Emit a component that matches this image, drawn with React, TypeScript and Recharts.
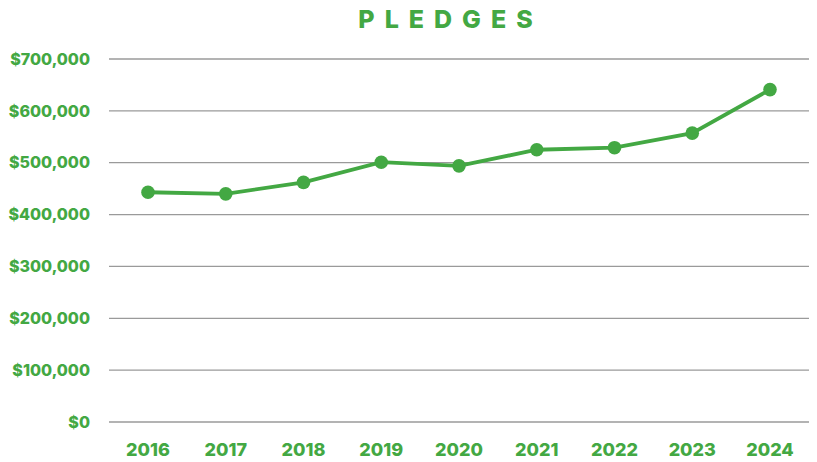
import React from "react";
import { LineChart, Line, XAxis, YAxis, CartesianGrid } from "recharts";

const years = ["2016", "2017", "2018", "2019", "2020", "2021", "2022", "2023", "2024"];
const pledges = [443000, 440000, 462000, 501000, 494000, 525000, 529000, 557000, 641000];
const yTicks = [0, 100000, 200000, 300000, 400000, 500000, 600000, 700000];

const data = years.map((y, i) => ({ year: y, value: pledges[i] }));

const GREEN = "#43a843";
const FONT = "Inter, 'Open Sans', sans-serif";

const fmt = (v: number) => "$" + v.toLocaleString("en-US");

export default function App() {
  return (
    <div style={{ position: "absolute", left: 0, top: 0, width: 817, height: 462 }}>
      <div
        style={{
          position: "absolute",
          left: 0,
          top: 2,
          width: 817,
          paddingLeft: 84,
          boxSizing: "border-box",
          textAlign: "center",
          fontFamily: FONT,
          fontWeight: 800,
          fontSize: 25,
          letterSpacing: 10,
          color: GREEN,
          lineHeight: "34px",
        }}
      >
        PLEDGES
      </div>
      <LineChart
        width={817}
        height={462}
        data={data}
        margin={{ top: 59, right: 8, bottom: 0, left: 0 }}
      >
        <CartesianGrid vertical={false} stroke="#9a9a9a" strokeWidth={1.3} />
        <XAxis
          dataKey="year"
          axisLine={false}
          tickLine={false}
          height={40}
          tickMargin={15}
          padding={{ left: 39, right: 39 }}
          tick={{ fill: GREEN, fontFamily: FONT, fontWeight: 800, fontSize: 18 }}
        />
        <YAxis
          domain={[0, 700000]}
          ticks={yTicks}
          tickFormatter={fmt}
          axisLine={false}
          tickLine={false}
          width={109}
          tickMargin={13}
          tick={{ fill: GREEN, fontFamily: FONT, fontWeight: 800, fontSize: 16 }}
        />
        <Line
          type="linear"
          dataKey="value"
          stroke={GREEN}
          strokeWidth={3.8}
          dot={{ r: 6.8, fill: GREEN, stroke: GREEN, strokeWidth: 0 }}
          activeDot={false}
          isAnimationActive={false}
        />
      </LineChart>
    </div>
  );
}
